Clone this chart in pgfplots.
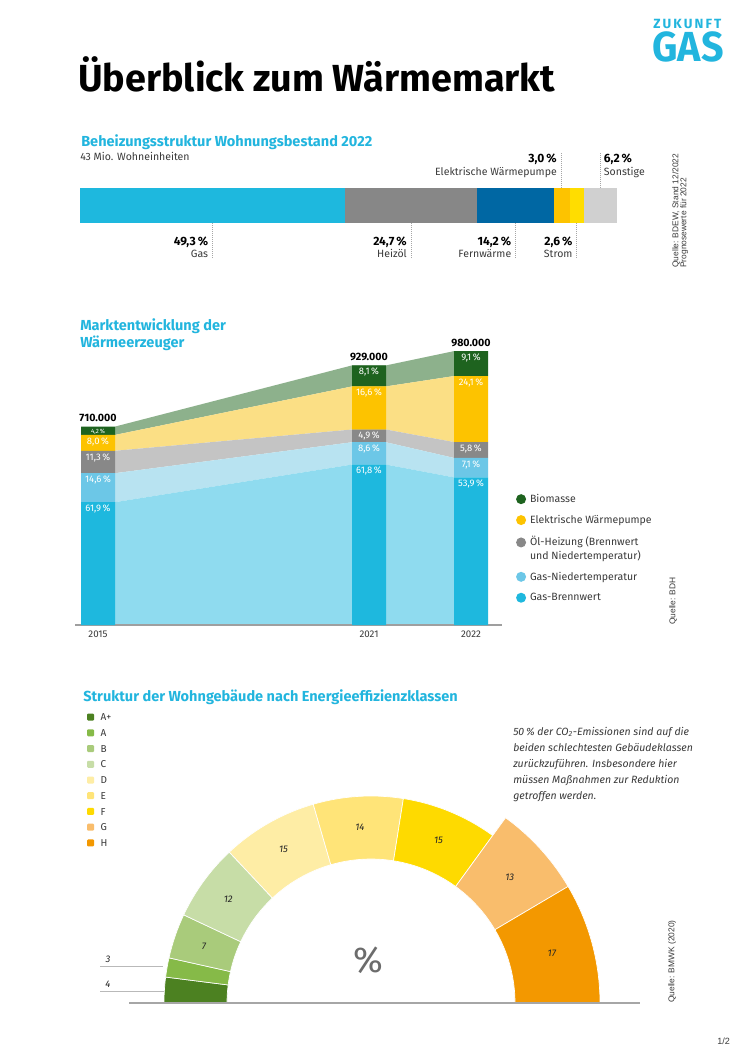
\documentclass[border=0pt]{standalone}
\usepackage{fontspec}
\setmainfont{Fira Sans}
\newfontfamily\arialfont{Liberation Sans}
\usepackage{pgfplots}
\usepackage{pgfplotstable}
\pgfplotsset{compat=1.18}

\definecolor{zcyan}{HTML}{22B5DE}
\definecolor{txt}{HTML}{3A3A3A}
% Beheizungsstruktur
\definecolor{cgas}{HTML}{1EB8DE}
\definecolor{coel}{HTML}{878787}
\definecolor{cfern}{HTML}{0067A3}
\definecolor{cwp}{HTML}{FDC300}
\definecolor{cstrom}{HTML}{FFDD00}
\definecolor{csonst}{HTML}{D0D0D0}
% Marktentwicklung: Balken / Flaechen
\definecolor{bgbw}{HTML}{1EB8DE}\definecolor{agbw}{HTML}{8FDBEF}
\definecolor{bgnt}{HTML}{6CC7E7}\definecolor{agnt}{HTML}{B8E3F1}
\definecolor{boel}{HTML}{888888}\definecolor{aoel}{HTML}{C4C4C4}
\definecolor{bwp}{HTML}{FDC300}\definecolor{awp}{HTML}{FBDF85}
\definecolor{bbio}{HTML}{1E631F}\definecolor{abio}{HTML}{8DB18C}
% Effizienzklassen
\definecolor{kAp}{HTML}{4C8121}
\definecolor{kA}{HTML}{86BA48}
\definecolor{kB}{HTML}{A9CB7B}
\definecolor{kC}{HTML}{C7DDA7}
\definecolor{kD}{HTML}{FEEDA5}
\definecolor{kE}{HTML}{FFE478}
\definecolor{kF}{HTML}{FEDA00}
\definecolor{kG}{HTML}{F9BD6C}
\definecolor{kH}{HTML}{F39800}

% Anteil in %, Beginn (kumuliert), Aussenradius in px
\pgfplotstableread{
klasse anteil start radius farbe
A+ 4  0  207 kAp
A  3  4  207 kA
B  7  7  207 kB
C  12 14 207 kC
D  15 26 207 kD
E  14 41 207 kE
F  15 55 207 kF
G  13 70 229 kG
H  17 83 229 kH
}\klassen

\newcommand\secfont{\fontsize{10.9}{13}\selectfont\bfseries}
\newcommand\pctfont{\fontsize{9}{10}\selectfont\bfseries}
\newcommand\namefont{\fontsize{7.9}{9}\selectfont}
\newcommand\srcfont{\arialfont\fontsize{6.3}{6.1}\selectfont}
\newcommand\lblfont{\fontsize{7.2}{8}\selectfont\itshape}

\tikzset{lead/.style={densely dotted, color=gray!70, line width=0.5pt},
  t/.style={inner sep=0pt}}
\pgfplotsset{markt/.style={at={(56.25pt,-468.75pt)}, anchor=south west, scale only axis,
    width=320.25pt, height=209.6pt, xmin=75, xmax=502, ymin=0, ymax=1000, enlargelimits=false},
  zweizeilig/.style={legend image code/.code={\fill[##1] (3.75pt,4.5pt) circle[radius=3.75pt]; \path (0pt,-8.25pt);}}}

\begin{document}
\begin{tikzpicture}[x=0.75pt, y=-0.75pt]
\fill[white] (0,0) rectangle (746,1056);

% Kopf
\node[t, anchor=base west, font=\fontsize{28.3}{30}\selectfont\bfseries] at (78,91) {Überblick zum Wärmemarkt};
\node[t, anchor=base west, text=zcyan, font=\fontsize{10}{11}\selectfont\bfseries\addfontfeature{LetterSpace=16}] at (653,29) {ZUKUNFT};
\node[t, anchor=base west, text=zcyan, font=\fontsize{31.5}{32}\selectfont\bfseries\addfontfeature{FakeStretch=0.94}] at (652,62) {GAS};

% ---------- Beheizungsstruktur ----------
\node[t, anchor=base west, text=zcyan, font=\secfont] at (81,146) {Beheizungsstruktur Wohnungsbestand 2022};
\node[t, anchor=base west, text=txt, font=\namefont] at (80,160) {43 Mio. Wohneinheiten};

\begin{axis}[at={(60pt,-141pt)}, anchor=north west, scale only axis,
  width=402.75pt, height=26.25pt, xmin=0, xmax=100, ymin=0, ymax=1,
  hide axis, enlargelimits=false, clip=false, xbar stacked, bar width=1]
\addplot[fill=cgas, draw=none] coordinates {(49.3,0.5)};
\addplot[fill=coel, draw=none] coordinates {(24.7,0.5)};
\addplot[fill=cfern, draw=none] coordinates {(14.2,0.5)};
\addplot[fill=cwp, draw=none] coordinates {(3.0,0.5)};
\addplot[fill=cstrom, draw=none] coordinates {(2.6,0.5)};
\addplot[fill=csonst, draw=none] coordinates {(6.2,0.5)};
% unten
\draw[lead] (axis cs:24.65,0) -- ++(0pt,-26.25pt);
\draw[lead] (axis cs:61.65,0) -- ++(0pt,-26.25pt);
\draw[lead] (axis cs:81.1,0) -- ++(0pt,-26.25pt);
\draw[lead] (axis cs:92.5,0) -- ++(0pt,-26.25pt);
\node[t, anchor=base east, font=\pctfont] at ([xshift=-3pt,yshift=-17pt]axis cs:24.65,0) {49,3\,\%};
\node[t, anchor=base east, font=\namefont, text=txt] at ([xshift=-3pt,yshift=-26pt]axis cs:24.65,0) {Gas};
\node[t, anchor=base east, font=\pctfont] at ([xshift=-3pt,yshift=-17pt]axis cs:61.65,0) {24,7\,\%};
\node[t, anchor=base east, font=\namefont, text=txt] at ([xshift=-3pt,yshift=-26pt]axis cs:61.65,0) {Heizöl};
\node[t, anchor=base east, font=\pctfont] at ([xshift=-3pt,yshift=-17pt]axis cs:81.1,0) {14,2\,\%};
\node[t, anchor=base east, font=\namefont, text=txt] at ([xshift=-3pt,yshift=-26pt]axis cs:81.1,0) {Fernwärme};
\node[t, anchor=base east, font=\pctfont] at ([xshift=-3pt,yshift=-17pt]axis cs:92.5,0) {2,6\,\%};
\node[t, anchor=base east, font=\namefont, text=txt] at ([xshift=-3pt,yshift=-26pt]axis cs:92.5,0) {Strom};
% oben
\draw[lead] (axis cs:89.7,1) -- ++(0pt,26.25pt);
\draw[lead] (axis cs:96.9,1) -- ++(0pt,26.25pt);
\node[t, anchor=base east, font=\pctfont] at ([xshift=-3.5pt,yshift=19.5pt]axis cs:89.7,1) {3,0\,\%};
\node[t, anchor=base east, font=\namefont, text=txt] at ([xshift=-3.5pt,yshift=9.75pt]axis cs:89.7,1) {Elektrische Wärmepumpe};
\node[t, anchor=base west, font=\pctfont] at ([xshift=2.5pt,yshift=19.5pt]axis cs:96.9,1) {6,2\,\%};
\node[t, anchor=base west, font=\namefont, text=txt] at ([xshift=2.5pt,yshift=9.75pt]axis cs:96.9,1) {Sonstige};
\end{axis}
\node[t, rotate=90, anchor=north west, align=left, font=\srcfont, text=txt] at (672,268) {Quelle: BDEW, Stand 12/2022\\Prognosewerte für 2022};

% ---------- Marktentwicklung ----------
\node[t, anchor=base west, text=zcyan, font=\secfont] at (80,330) {Marktentwicklung der};
\node[t, anchor=base west, text=zcyan, font=\secfont] at (80,347) {Wärmeerzeuger};

% Flaechen zwischen den Balken (Tsd. Geraete, gestapelt)
\begin{axis}[markt, hide axis, stack plots=y]
\addplot[fill=agbw, draw=none] coordinates {(115,439.5) (352,574.1) (386,574.1) (454,528.2)} \closedcycle;
\addplot[fill=agnt, draw=none] coordinates {(115,103.7) (352,79.9) (386,79.9) (454,69.6)} \closedcycle;
\addplot[fill=aoel, draw=none] coordinates {(115,80.2) (352,45.5) (386,45.5) (454,56.8)} \closedcycle;
\addplot[fill=awp, draw=none] coordinates {(115,56.8) (352,154.2) (386,154.2) (454,236.2)} \closedcycle;
\addplot[fill=abio, draw=none] coordinates {(115,29.8) (352,75.2) (386,75.2) (454,89.2)} \closedcycle;
\end{axis}

% Balken
\begin{axis}[markt, clip=false,
  ybar stacked, bar width=34,
  axis x line*=bottom, axis y line=none,
  x axis line style={-, draw=gray!75, line width=1.1pt},
  xtick={98,369,471}, xticklabels={2015,2021,2022}, major tick length=0pt,
  xticklabel style={font=\fontsize{7.3}{8}\selectfont, text=txt, inner sep=0pt, yshift=-4.5pt},
  ytick=\empty,
  reverse legend, legend cell align=left,
  legend image code/.code={\fill[#1] (3.75pt,0pt) circle[radius=3.75pt];},
  legend style={at={(axis description cs:1.023,0.4794)}, anchor=north west, draw=none, fill=none,
    font=\fontsize{7.9}{9}\selectfont, text=txt, row sep=7.9pt,
    nodes={inner sep=0pt, align=left},
    /tikz/every odd column/.append style={column sep=3pt}}]
\addplot[fill=bgbw, draw=none] coordinates {(98,439.5) (369,574.1) (471,528.2)};
\addlegendentry{Gas-Brennwert\strut}
\addplot[fill=bgnt, draw=none] coordinates {(98,103.7) (369,79.9) (471,69.6)};
\addlegendentry{Gas-Niedertemperatur\strut}
\addplot[fill=boel, draw=none, zweizeilig] coordinates {(98,80.2) (369,45.5) (471,56.8)};
\addlegendentry{Öl-Heizung (Brennwert\strut\\und Niedertemperatur)\strut}
\addplot[fill=bwp, draw=none] coordinates {(98,56.8) (369,154.2) (471,236.2)};
\addlegendentry{Elektrische Wärmepumpe\strut}
\addplot[fill=bbio, draw=none] coordinates {(98,29.8) (369,75.2) (471,89.2)};
\addlegendentry{Biomasse\strut}
\end{axis}

% Beschriftungen an der Oberkante jedes Segments (kumulierte Werte)
\begin{axis}[markt, hide axis, clip=false, point meta=explicit symbolic, nodes near coords]
\addplot[draw=none, mark=none,
  every node near coord/.append style={font=\fontsize{7.1}{8}\selectfont, text=white, anchor=north, yshift=-1.8pt, inner sep=0pt}]
  coordinates {
  (98,439.5)[61,9\,\%] (98,543.2)[14,6\,\%] (98,623.4)[11,3\,\%] (98,680.2)[8,0\,\%]
  (98,710.0)[{\fontsize{4.6}{5}\selectfont 4,2\,\%}]
  (369,574.1)[61,8\,\%] (369,654.0)[8,6\,\%] (369,699.5)[4,9\,\%] (369,853.7)[16,6\,\%] (369,928.9)[8,1\,\%]
  (471,528.2)[53,9\,\%] (471,597.8)[7,1\,\%] (471,654.6)[5,8\,\%] (471,890.8)[24,1\,\%] (471,980.0)[9,1\,\%]};
\addplot[draw=none, mark=none,
  every node near coord/.append style={font=\fontsize{8}{9}\selectfont\bfseries, text=black, anchor=base, yshift=3.75pt, inner sep=0pt}]
  coordinates {(98,710)[710.000] (369,929)[929.000] (471,980)[980.000]};
\end{axis}
\node[t, rotate=90, anchor=north west, font=\srcfont, text=txt] at (669,625) {Quelle: BDH};

% ---------- Effizienzklassen ----------
\node[t, anchor=base west, text=zcyan, font=\secfont] at (83,701) {Struktur der Wohngebäude nach Energieeffizienzklassen};
\node[t, anchor=north west, align=left, text=txt, font=\fontsize{7.9}{12}\selectfont\itshape] at (513,727)
  {50\,\% der CO\textsubscript{2}-Emissionen sind auf die\\beiden schlechtesten Gebäudeklassen\\zurückzuführen. Insbesondere hier\\müssen Maßnahmen zur Reduktion\\getroffen werden.};

\begin{axis}[at={(60pt,-752.25pt)}, anchor=south west, scale only axis,
  width=420pt, height=225pt, xmin=-291, xmax=269, ymin=0, ymax=300,
  hide axis, enlargelimits=false, clip=false,
  legend cell align=left,
  legend image code/.code={\fill[#1, rounded corners=0.8pt] (0pt,-2.6pt) rectangle (5.25pt,2.65pt);},
  legend style={at={(axis description cs:0.005,0.975)}, anchor=north west, draw=none, fill=none,
    font=\fontsize{7.5}{9}\selectfont, text=txt, row sep=6.3pt,
    nodes={inner sep=0pt, text height=5.5pt, text depth=0pt},
    /tikz/every odd column/.append style={column sep=5pt}}]
\addlegendimage{fill=kAp, draw=none}\addlegendentry{A+}
\addlegendimage{fill=kA, draw=none}\addlegendentry{A}
\addlegendimage{fill=kB, draw=none}\addlegendentry{B}
\addlegendimage{fill=kC, draw=none}\addlegendentry{C}
\addlegendimage{fill=kD, draw=none}\addlegendentry{D}
\addlegendimage{fill=kE, draw=none}\addlegendentry{E}
\addlegendimage{fill=kF, draw=none}\addlegendentry{F}
\addlegendimage{fill=kG, draw=none}\addlegendentry{G}
\addlegendimage{fill=kH, draw=none}\addlegendentry{H}
% Segmente aus der Tabelle
\pgfplotsinvokeforeach{0,...,8}{%
  \pgfplotstablegetelem{#1}{anteil}\of\klassen \let\kv\pgfplotsretval
  \pgfplotstablegetelem{#1}{start}\of\klassen \let\ks\pgfplotsretval
  \pgfplotstablegetelem{#1}{radius}\of\klassen \let\kr\pgfplotsretval
  \pgfplotstablegetelem{#1}{farbe}\of\klassen \let\kc\pgfplotsretval
  \pgfmathsetmacro\aA{180-1.8*\ks}%
  \pgfmathsetmacro\aB{180-1.8*(\ks+\kv)}%
  \pgfmathsetmacro\aM{180-1.8*(\ks+\kv/2)}%
  \pgfmathsetmacro\rO{0.75*\kr}%
  \pgfmathsetmacro\rL{0.75*((144+\kr)/2+1)}%
  \edef\wedgecmd{\noexpand\fill[\kc, draw=white, line width=0.5pt]
    ([shift={(\aA:\rO pt)}]axis cs:0,0) arc[start angle=\aA, end angle=\aB, radius=\rO pt]
    -- ([shift={(\aB:108pt)}]axis cs:0,0) arc[start angle=\aB, end angle=\aA, radius=108pt] -- cycle;}%
  \wedgecmd
  \ifnum#1>1
    \edef\labelcmd{\noexpand\node[t, font=\noexpand\lblfont, text=black!85]
      at ([shift={(\aM:\rL pt)}]axis cs:0,0) {\kv};}%
    \labelcmd
  \fi
}
\draw[color=gray!70, line width=0.8pt] (axis cs:-242,0) -- (axis cs:269,0);
\draw[color=gray!55, line width=0.6pt] (axis cs:-271,37) -- (axis cs:-208,37);
\draw[color=gray!55, line width=0.6pt] (axis cs:-271,12) -- (axis cs:-207,12);
\node[t, font=\lblfont, text=black!85] at (axis cs:-263,44) {3};
\node[t, font=\lblfont, text=black!85] at (axis cs:-263,19) {4};
\node[t, font=\fontsize{27}{28}\selectfont, text=gray!85!black] at (axis cs:-3,43) {\%};
\end{axis}
\node[t, rotate=90, anchor=north west, font=\srcfont, text=txt] at (668,1003) {Quelle: BMWK (2020)};
\node[t, anchor=base west, font=\arialfont\fontsize{6.8}{8}\selectfont, text=txt] at (717,1044) {1/2};
\end{tikzpicture}
\end{document}
